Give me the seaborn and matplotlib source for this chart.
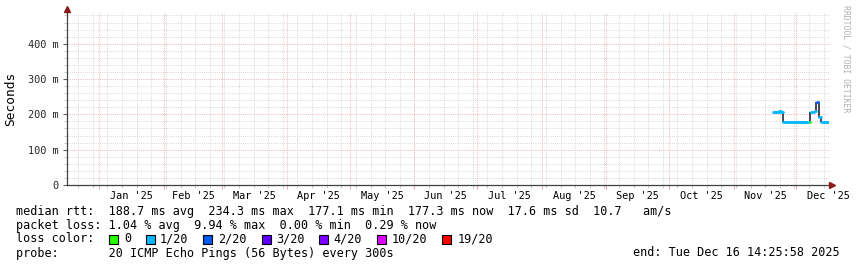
import numpy as np
import pandas as pd
import matplotlib
matplotlib.use("Agg")
import matplotlib.pyplot as plt
import matplotlib.dates as mdates
from matplotlib.patches import Rectangle
import seaborn as sns

# ---------------- data ----------------
start_time = "2024-12-16 14:25:58"
end_time = "2025-12-16 14:25:58"

sample_dates = pd.date_range("2025-11-19 14:00", "2025-12-16 14:00", freq="D")
median_rtt_s = [0.208, 0.208, 0.208, 0.209, 0.208,
                0.178, 0.177, 0.178, 0.178, 0.177, 0.178, 0.177,
                0.178, 0.178, 0.177, 0.178, 0.178, 0.179,
                0.208, 0.208, 0.209, 0.234, 0.193, 0.178, 0.177, 0.178, 0.177, 0.177]
loss_of_20 = [1, 1, 1, 1, 1,
              1, 1, 1, 1, 1, 1, 1,
              1, 1, 1, 1, 1, 0,
              1, 1, 1, 2, 1, 1, 1, 1, 1, 1]

loss_levels = ["0", "1/20", "2/20", "3/20", "4/20", "10/20", "19/20"]
loss_level_values = [0, 1, 2, 3, 4, 10, 19]
loss_colors = ["#26ff00", "#00b8ff", "#0059ff", "#5e00ff", "#7e00ff", "#dd00ff", "#ff0000"]

y_ticks = [0, 0.1, 0.2, 0.3, 0.4]
y_tick_labels = ["0", "100 m", "200 m", "300 m", "400 m"]

stats_line1 = "median rtt:  188.7 ms avg  234.3 ms max  177.1 ms min  177.3 ms now  17.6 ms sd  10.7   am/s"
stats_line2 = "packet loss: 1.04 % avg  9.94 % max  0.00 % min  0.29 % now"
probe_line = "probe:       20 ICMP Echo Pings (56 Bytes) every 300s"
end_line = "end: Tue Dec 16 14:25:58 2025"

# ---------------- style ----------------
sns.set_theme(style="white")
plt.rcParams['font.family'] = ['DejaVu Sans Mono', 'DejaVu Sans']

W, H = 857, 267
fig = plt.figure(figsize=(W / 100, H / 100), dpi=100)
fig.patch.set_facecolor("white")
ax = fig.add_axes([67 / W, 82 / H, 762 / W, 172 / H])
ax.set_facecolor("white")

t0 = pd.Timestamp(start_time)
t1 = pd.Timestamp(end_time)
ax.set_xlim(mdates.date2num(t0), mdates.date2num(t1))
ax.set_ylim(0, 0.487)

# grids
minor_col = "#d2d2d2"
major_col = "#eeaaaa"
dot = (0, (1, 1.4))
for yv in np.arange(0.02, 0.487, 0.02):
    if abs(yv / 0.1 - round(yv / 0.1)) > 1e-6:
        ax.axhline(yv, color=minor_col, lw=0.65, ls=dot, zorder=0)
for yv in y_ticks[1:]:
    ax.axhline(yv, color=major_col, lw=0.65, ls=dot, zorder=0.5)

weeks = pd.date_range(t0.normalize(), t1, freq="W-SUN")
for w in weeks:
    ax.axvline(mdates.date2num(w), color=minor_col, lw=0.65, ls=dot, zorder=0)
months = pd.date_range("2025-01-01", t1, freq="MS")
for m in months:
    ax.axvline(mdates.date2num(m), color=major_col, lw=0.65, ls=dot, zorder=0.5)

# ---------------- data marks ----------------
cmap = dict(zip(loss_level_values, loss_colors))
x_num = mdates.date2num(sample_dates)
x_end = mdates.date2num(t1) - 1.3
rows = []
for i in range(len(sample_dates)):
    xa = x_num[i] + 0.2
    xb = (x_num[i + 1] if i + 1 < len(x_num) else x_end) - 0.05
    rows.append({"seg": i, "x": xa, "y": median_rtt_s[i], "loss": loss_of_20[i]})
    rows.append({"seg": i, "x": xb, "y": median_rtt_s[i], "loss": loss_of_20[i]})
seg_df = pd.DataFrame(rows)
used = sorted(seg_df["loss"].unique())

# dark vertical connectors (step transitions)
for i in range(1, len(x_num)):
    if median_rtt_s[i] != median_rtt_s[i - 1]:
        ax.vlines(x_num[i], median_rtt_s[i - 1], median_rtt_s[i],
                  color="#101828", lw=1.1, zorder=3)

sns.lineplot(data=seg_df, x="x", y="y", units="seg", estimator=None,
             hue="loss", palette={k: cmap[k] for k in used}, lw=2.0,
             legend=False, ax=ax, zorder=5)

# axes
for s in ["top", "right"]:
    ax.spines[s].set_visible(False)
for s in ["left", "bottom"]:
    ax.spines[s].set_color("#404040")
    ax.spines[s].set_linewidth(0.9)
ax.set_xlabel("")
ax.set_ylabel("Seconds", fontsize=9.3, color="#000000", labelpad=8)
ax.set_xlim(mdates.date2num(t0), mdates.date2num(t1))
ax.set_ylim(0, 0.487)

ax.set_yticks(y_ticks)
ax.set_yticklabels(y_tick_labels)
ax.set_yticks(np.arange(0.02, 0.487, 0.02), minor=True)
ax.tick_params(axis="y", which="major", length=3, width=0.8, color="#606060",
               labelsize=7.4, pad=3, left=True)
ax.tick_params(axis="y", which="minor", length=2, width=0.6, color="#c0c0c0", left=True)

ax.set_xticks([mdates.date2num(m) for m in months])
ax.set_xticklabels([])
ax.set_xticks([mdates.date2num(w) for w in weeks], minor=True)
ax.tick_params(axis="x", which="major", length=3, width=0.8, color=major_col, bottom=True)
ax.tick_params(axis="x", which="minor", length=2, width=0.6, color="#c0c0c0", bottom=True)

# month labels centred in each month
for m in months:
    nxt = m + pd.offsets.MonthBegin(1)
    mid = m + (nxt - m) / 2
    ax.text(mdates.date2num(mid), -0.017, m.strftime("%b '%y"),
            ha="center", va="top", fontsize=7.4, color="#000000",
            transform=ax.transData, clip_on=False)

# arrows
arrow_col = "#8b1a1a"
ax.plot([0], [1.0 + 4 / 172], marker="^", ms=4.5, color=arrow_col,
        transform=ax.transAxes, clip_on=False, zorder=6)
ax.plot([1.0 + 3 / 762], [0], marker=">", ms=4.5, color=arrow_col,
        transform=ax.transAxes, clip_on=False, zorder=6)
ax.plot([0, 0], [1.0, 1.0 + 4 / 172], color="#404040", lw=0.9,
        transform=ax.transAxes, clip_on=False)
ax.plot([1.0, 1.0 + 3 / 762], [0, 0], color="#404040", lw=0.9,
        transform=ax.transAxes, clip_on=False)

# watermark
fig.text(846 / W, 1 - 5 / H, "RRDTOOL / TOBI OETIKER", rotation=270,
         ha="center", va="top", fontsize=5.9, color="#b0b0b0")

# legend text
fs = 8.5
def ftxt(x, y, s, **kw):
    fig.text(x / W, 1 - y / H, s, fontsize=fs, va="center", color="#000000", **kw)

ftxt(16, 211, stats_line1)
ftxt(16, 225, stats_line2)
ftxt(16, 239, "loss color:")
box_x = [109, 146, 203, 262, 319, 377, 442]
lab_x = [124, 160, 218, 276, 333, 392, 458]
for bx, lx, lab, col in zip(box_x, lab_x, loss_levels, loss_colors):
    fig.patches.append(Rectangle((bx / W, 1 - 244 / H), 9 / W, 9 / H,
                                 transform=fig.transFigure, facecolor=col,
                                 edgecolor="#000000", lw=0.8))
    ftxt(lx, 239, lab)
ftxt(16, 253, probe_line)
ftxt(840, 253, end_line, ha="right")

fig.savefig("out.png", dpi=100, facecolor="white")
